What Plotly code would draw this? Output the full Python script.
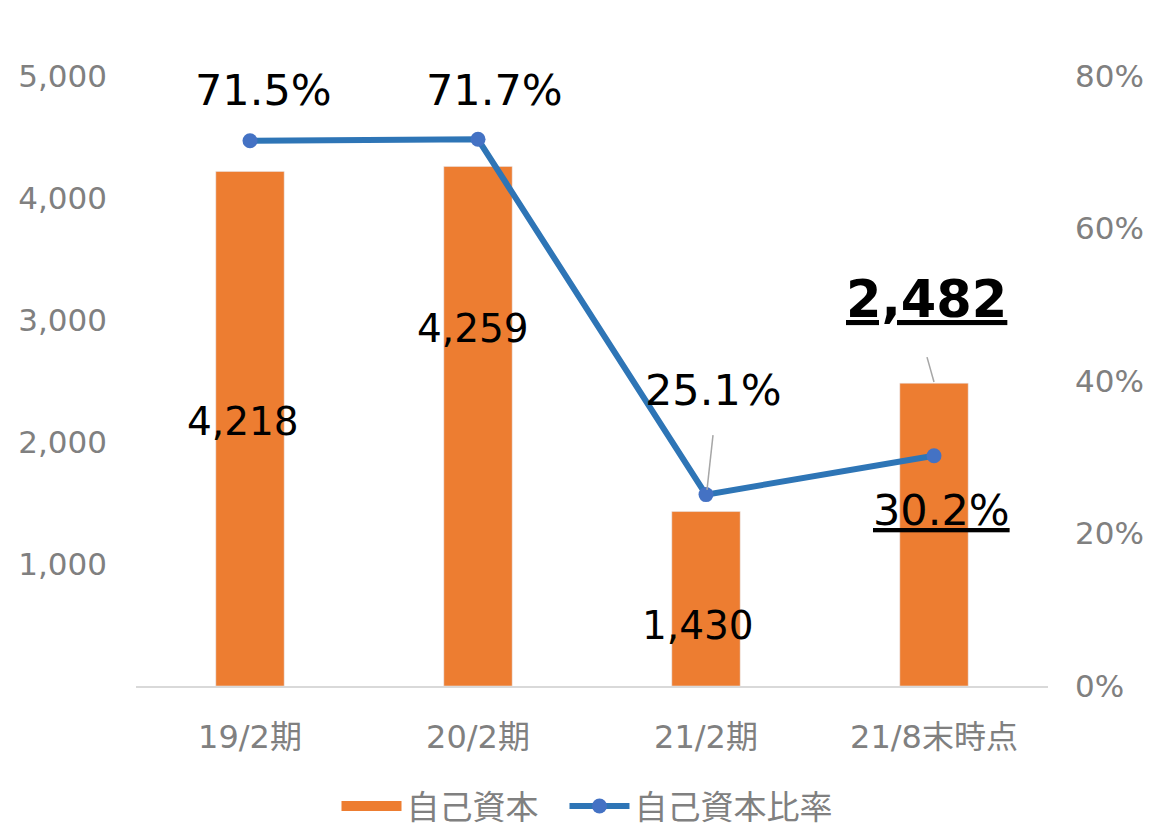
import plotly.graph_objects as go

categories = ["19/2期", "20/2期", "21/2期", "21/8末時点"]
equity = [4218, 4259, 1430, 2482]
ratio = [0.715, 0.717, 0.251, 0.302]
equity_labels = ["4,218", "4,259", "1,430", "<b><u>2,482</u></b>"]
ratio_labels = ["71.5%", "71.7%", "25.1%", "<u>30.2%</u>"]
left_ticks = [0, 1000, 2000, 3000, 4000, 5000]
left_tick_text = ["", "1,000", "2,000", "3,000", "4,000", "5,000"]
right_ticks = [0, 0.2, 0.4, 0.6, 0.8]
right_tick_text = ["0%", "20%", "40%", "60%", "80%"]

FONT = "DejaVu Sans, Noto Sans CJK JP"
GRAY = "#808080"
ORANGE = "#ED7D31"

fig = go.Figure()
fig.add_trace(go.Bar(x=categories, y=equity, name="自己資本", marker_color=ORANGE,
                     yaxis="y", showlegend=False, legendgroup="eq"))
# legend surrogate for the bar series (wide rectangle swatch)
fig.add_trace(go.Scatter(x=[None], y=[None], name="自己資本\u00a0\u00a0", mode="lines",
                         line=dict(color=ORANGE, width=18), legendgroup="eq",
                         showlegend=True, yaxis="y"))
fig.add_trace(go.Scatter(x=categories, y=ratio, name="自己資本比率", mode="lines+markers",
                         line=dict(color="#2E75B6", width=6),
                         marker=dict(color="#4472C4", size=15), yaxis="y2"))

# label positions (in left-axis units) and pixel x-shifts
eq_label_y = [2172, 2934, 492, 3164]
eq_label_dx = [-7, -5, -8, -8]
eq_label_size = [39, 39, 39, 51]
ra_label_y = [4885, 4885, 2426, 1443]
ra_label_dx = [13, 16, 7, 7]

ann = []
for i, c in enumerate(categories):
    ann.append(dict(x=c, y=eq_label_y[i], xref="x", yref="y", text=equity_labels[i],
                    showarrow=False, xshift=eq_label_dx[i],
                    font=dict(family=FONT, size=eq_label_size[i], color="#000000")))
    ann.append(dict(x=c, y=ra_label_y[i], xref="x", yref="y", text=ratio_labels[i],
                    showarrow=False, xshift=ra_label_dx[i],
                    font=dict(family=FONT, size=43, color="#000000")))

shapes = [
    dict(type="line", xref="x", yref="y", x0=2 + 7 / 228, x1=2 + 1 / 228, y0=2057, y1=1607,
         line=dict(color="#A6A6A6", width=1.5)),
    dict(type="line", xref="x", yref="y", x0=3 - 7 / 228, x1=3, y0=2696, y1=2492,
         line=dict(color="#A6A6A6", width=1.5)),
]

# page body has an 8px margin, so the figure is drawn 8px smaller and shifted
W, H = 1167, 819
fig.update_layout(
    width=W, height=H,
    margin=dict(l=128, r=127, t=68, b=141, autoexpand=False),
    paper_bgcolor="white", plot_bgcolor="white",
    bargap=0.7,
    showlegend=True,
    legend=dict(orientation="h", x=(587 - 8) / W, xanchor="center", xref="container",
                y=1 - 798 / H, yanchor="middle", yref="container",
                font=dict(family=FONT, size=33, color=GRAY), itemwidth=60,
                tracegroupgap=0),
    xaxis=dict(showgrid=False, showline=True, linecolor="#D9D9D9", linewidth=2,
               tickfont=dict(family=FONT, size=32, color=GRAY), ticks="",
               ticklabelstandoff=22, automargin=False),
    yaxis=dict(range=[0, 5000], tickvals=left_ticks, ticktext=left_tick_text,
               showgrid=False, zeroline=False, showline=False, automargin=False,
               tickfont=dict(family=FONT, size=31, color=GRAY), ticklabelstandoff=28),
    yaxis2=dict(range=[0, 0.8], tickvals=right_ticks, ticktext=right_tick_text,
                overlaying="y", side="right", showgrid=False, zeroline=False, showline=False,
                automargin=False,
                tickfont=dict(family=FONT, size=31, color=GRAY), ticklabelstandoff=26),
    annotations=ann,
    shapes=shapes,
)

fig.write_html("out.html")
